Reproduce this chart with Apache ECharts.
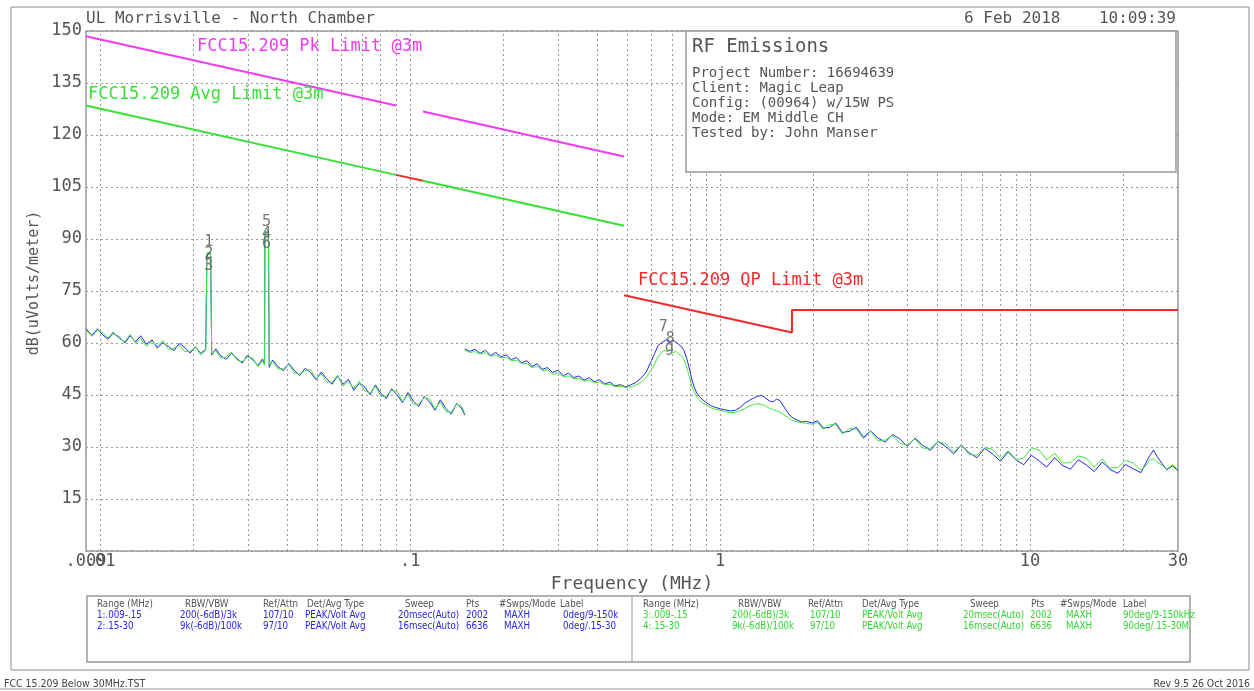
<!DOCTYPE html>
<html>
<head>
<meta charset="utf-8">
<script src="https://cdn.jsdelivr.net/npm/echarts@6/dist/echarts.min.js"></script>
<style>
html,body{margin:0;padding:0;background:#fff;}
#chart{width:1254px;height:691px;}
</style>
</head>
<body>
<div id="chart"></div>
<script>
// ---------- data ----------
var xTickValues = [0.009, 0.1, 1, 10, 30];
var xTickText = ['.009', '.1', '1', '10', '30'];
var xTickValues2 = [0.01];        // label drawn on an overlaid axis (overlaps '.009' as in the original)
var xTickText2 = ['.01'];
var yTickStep = 15;
var gridFreqs = [0.01,0.02,0.03,0.04,0.05,0.06,0.07,0.08,0.09,
                 0.1,0.2,0.3,0.4,0.5,0.6,0.7,0.8,0.9,
                 1,2,3,4,5,6,7,8,9,10,20];

// limit lines [MHz, dBuV/m]
var pkLimitA = [[0.009,148.5],[0.09,128.5]];
var pkLimitB = [[0.11,126.8],[0.49,113.8]];
var avgLimitA = [[0.009,128.5],[0.09,108.5]];
var avgLimitB = [[0.11,106.8],[0.49,93.8]];
var qpLimitLow = [[0.09,108.5],[0.11,106.8]];
var qpLimit = [[0.49,73.8],[1.705,63.0],[1.705,69.5],[30,69.5]];

// range 1 (.009-.15 MHz)
var blue1 = [[0.0090,64.1],[0.0094,62.2],[0.0098,64.1],[0.0102,62.3],[0.0106,61.1],[0.0110,62.8],[0.0115,61.8],[0.0120,60.0],[0.0125,62.1],[0.0130,60.3],[0.0135,62.1],[0.0141,59.6],[0.0147,60.9],[0.0153,58.5],[0.0159,60.1],[0.0166,59.0],[0.0173,57.8],[0.0180,59.9],[0.0187,58.8],[0.0195,57.1],[0.0203,58.9],[0.0211,57.0],[0.0219,58.2],[0.0221,85.6],[0.0227,85.9],[0.0229,56.5],[0.0236,58.3],[0.0245,56.3],[0.0255,55.3],[0.0265,57.0],[0.0276,55.6],[0.0287,54.2],[0.0298,56.4],[0.0310,55.2],[0.0323,53.5],[0.0334,55.4],[0.0339,53.9],[0.0340,91.6],[0.0349,92.1],[0.0351,53.0],[0.0360,55.1],[0.0375,53.1],[0.0390,52.0],[0.0406,54.1],[0.0423,52.1],[0.0440,50.6],[0.0458,52.7],[0.0477,51.5],[0.0497,49.4],[0.0517,51.6],[0.0538,49.7],[0.0560,48.1],[0.0583,50.5],[0.0607,48.1],[0.0632,49.5],[0.0658,46.4],[0.0685,48.3],[0.0713,47.4],[0.0742,45.1],[0.0773,47.9],[0.0805,45.5],[0.0838,44.0],[0.0872,46.8],[0.0908,45.0],[0.0945,42.8],[0.0984,45.7],[0.1024,43.2],[0.1066,41.7],[0.1110,44.6],[0.1156,42.9],[0.1203,40.6],[0.1252,43.6],[0.1304,41.1],[0.1357,39.5],[0.1413,42.6],[0.1471,40.9],[0.1500,39.2]];
var green1 = [[0.0090,63.7],[0.0094,61.9],[0.0098,63.7],[0.0102,63.0],[0.0106,61.4],[0.0110,63.2],[0.0115,61.3],[0.0120,60.4],[0.0125,62.5],[0.0130,59.9],[0.0135,61.3],[0.0141,59.0],[0.0147,60.6],[0.0153,59.0],[0.0159,60.7],[0.0166,58.2],[0.0173,58.4],[0.0180,59.4],[0.0187,57.6],[0.0195,57.5],[0.0203,59.0],[0.0211,56.6],[0.0219,57.9],[0.0221,86.0],[0.0227,86.3],[0.0229,56.9],[0.0236,57.8],[0.0245,55.6],[0.0255,56.0],[0.0265,57.4],[0.0276,55.1],[0.0287,54.6],[0.0298,55.9],[0.0310,55.7],[0.0323,53.2],[0.0334,54.9],[0.0339,53.6],[0.0340,92.0],[0.0349,92.4],[0.0351,53.5],[0.0360,54.7],[0.0375,52.5],[0.0390,52.6],[0.0406,53.9],[0.0423,51.4],[0.0440,51.0],[0.0458,52.0],[0.0477,52.4],[0.0497,49.7],[0.0517,51.1],[0.0538,48.8],[0.0560,48.6],[0.0583,50.7],[0.0607,47.6],[0.0632,48.9],[0.0658,46.9],[0.0685,49.0],[0.0713,46.2],[0.0742,45.6],[0.0773,47.5],[0.0805,44.6],[0.0838,44.7],[0.0872,46.3],[0.0908,46.1],[0.0945,43.1],[0.0984,45.1],[0.1024,42.3],[0.1066,42.4],[0.1110,44.3],[0.1156,43.8],[0.1203,40.9],[0.1252,43.0],[0.1304,40.2],[0.1357,40.0],[0.1413,42.4],[0.1471,41.5],[0.1500,39.6]];

// range 2 (.15-30 MHz)
var blue2 = [[0.150,58.3],[0.156,57.6],[0.162,58.2],[0.168,57.0],[0.175,57.9],[0.182,56.4],[0.189,57.3],[0.196,56.0],[0.204,56.6],[0.212,55.2],[0.220,55.8],[0.229,54.3],[0.238,54.9],[0.247,53.2],[0.257,54.0],[0.267,52.4],[0.277,52.9],[0.288,51.5],[0.300,52.1],[0.312,50.6],[0.324,51.3],[0.337,50.0],[0.350,50.5],[0.364,49.3],[0.378,50.0],[0.393,48.8],[0.408,49.4],[0.424,48.2],[0.441,48.7],[0.458,47.6],[0.476,48.0],[0.495,47.3],[0.514,47.9],[0.534,48.6],[0.555,49.8],[0.577,51.6],[0.600,54.8],[0.615,57.0],[0.630,59.2],[0.645,60.0],[0.660,60.6],[0.675,61.0],[0.690,60.4],[0.705,60.8],[0.720,60.2],[0.735,59.6],[0.750,59.0],[0.765,57.8],[0.780,55.6],[0.795,52.8],[0.810,49.6],[0.825,47.2],[0.840,45.6],[0.860,44.4],[0.880,43.6],[0.900,42.9],[0.930,42.0],[0.960,41.5],[1.00,41.0],[1.04,40.7],[1.08,40.4],[1.12,40.6],[1.16,41.4],[1.20,42.6],[1.24,43.4],[1.28,44.1],[1.32,44.6],[1.36,44.9],[1.40,44.2],[1.44,43.3],[1.48,43.0],[1.52,43.8],[1.56,43.4],[1.60,41.8],[1.65,40.0],[1.70,38.6],[1.76,37.9],[1.83,37.2],[1.90,37.4],[1.98,36.9],[2.06,37.6],[2.15,35.5],[2.25,35.6],[2.36,36.9],[2.48,34.2],[2.61,34.5],[2.75,35.7],[2.90,32.8],[3.06,34.6],[3.23,32.6],[3.41,31.4],[3.60,33.6],[3.80,32.3],[4.02,30.2],[4.25,32.6],[4.50,30.5],[4.77,29.0],[5.05,31.6],[5.35,30.1],[5.67,28.0],[6.00,30.6],[6.36,28.3],[6.74,26.9],[7.14,29.6],[7.57,28.0],[8.02,25.9],[8.50,28.6],[9.00,26.3],[9.54,24.9],[10.1,27.6],[10.7,26.0],[11.3,24.2],[12.0,26.9],[12.7,24.7],[13.5,23.6],[14.3,26.3],[15.2,24.8],[16.1,22.9],[17.1,25.7],[18.1,23.5],[19.2,22.4],[20.3,25.0],[21.5,23.7],[22.8,22.6],[23.6,25.3],[24.3,27.5],[25.0,29.1],[25.8,27.0],[26.6,25.3],[27.6,23.4],[28.8,24.6],[30.0,23.2]];
var green2 = [[0.150,57.9],[0.156,57.3],[0.162,57.5],[0.168,56.8],[0.175,57.2],[0.182,56.1],[0.189,56.6],[0.196,55.7],[0.204,55.9],[0.212,54.9],[0.220,55.0],[0.229,54.0],[0.238,54.1],[0.247,52.9],[0.257,53.3],[0.267,52.0],[0.277,52.3],[0.288,51.0],[0.300,51.4],[0.312,50.3],[0.324,50.5],[0.337,49.7],[0.350,49.8],[0.364,49.0],[0.378,49.3],[0.393,48.5],[0.408,48.8],[0.424,48.0],[0.441,48.1],[0.458,47.4],[0.476,47.5],[0.495,47.2],[0.514,47.3],[0.534,47.8],[0.555,48.6],[0.577,50.0],[0.600,52.2],[0.615,54.0],[0.630,56.0],[0.645,57.2],[0.660,57.9],[0.675,57.5],[0.690,58.0],[0.705,57.2],[0.720,57.6],[0.735,56.8],[0.750,56.4],[0.765,55.2],[0.780,53.0],[0.795,50.4],[0.810,47.6],[0.825,45.8],[0.840,44.4],[0.860,43.5],[0.880,42.7],[0.900,42.2],[0.930,41.4],[0.960,40.9],[1.00,40.6],[1.04,40.2],[1.08,39.9],[1.12,40.0],[1.16,40.5],[1.20,41.1],[1.24,41.8],[1.28,42.2],[1.32,42.5],[1.36,42.3],[1.40,41.9],[1.44,41.2],[1.48,40.8],[1.52,40.5],[1.56,40.0],[1.60,39.4],[1.65,38.6],[1.70,37.8],[1.76,37.3],[1.83,37.0],[1.90,36.8],[1.98,36.6],[2.06,37.1],[2.15,35.1],[2.25,36.4],[2.36,36.5],[2.48,33.8],[2.61,35.3],[2.75,35.2],[2.90,32.4],[3.06,34.6],[3.23,31.8],[3.41,32.0],[3.60,33.3],[3.80,31.1],[4.02,30.6],[4.25,32.4],[4.50,29.7],[4.77,29.6],[5.05,31.5],[5.35,31.0],[5.67,28.5],[6.00,30.5],[6.36,27.8],[6.74,27.7],[7.14,29.8],[7.57,29.3],[8.02,26.7],[8.50,28.9],[9.00,26.4],[9.54,26.8],[10.1,29.8],[10.7,29.1],[11.3,26.3],[12.0,28.2],[12.7,25.4],[13.5,25.5],[14.3,27.4],[15.2,26.8],[16.1,24.2],[17.1,26.6],[18.1,23.9],[19.2,24.1],[20.3,26.1],[21.5,25.4],[22.8,23.3],[23.6,24.6],[24.3,26.2],[25.0,26.6],[25.8,25.6],[26.6,24.8],[27.6,23.6],[28.8,24.9],[30.0,23.4]];

// peak markers [MHz, dB, label]
var markers = [[0.0224,89.0,'1'],[0.0224,85.6,'2'],[0.0224,82.3,'3'],
               [0.0344,94.8,'5'],[0.0344,91.5,'4'],[0.0344,88.6,'6'],
               [0.655,64.6,'7'],[0.690,61.0,'8'],[0.685,57.8,'9']];

// texts
var headerLeft = 'UL Morrisville - North Chamber';
var headerRight = '6 Feb 2018    10:09:39';
var yAxisTitle = 'dB(uVolts/meter)';
var infoTitle = 'RF Emissions';
var infoLines = ['Project Number: 16694639','Client: Magic Leap','Config: (00964) w/15W PS','Mode: EM Middle CH','Tested by: John Manser'];
var tableHeader = ['Range (MHz)','RBW/VBW','Ref/Attn','Det/Avg Type','Sweep','Pts','#Swps/Mode','Label'];
var tableLeftRows = [['1:.009-.15','200(-6dB)/3k','107/10','PEAK/Volt Avg','20msec(Auto)','2002','MAXH','0deg/9-150k'],
                     ['2:.15-30','9k(-6dB)/100k','97/10','PEAK/Volt Avg','16msec(Auto)','6636','MAXH','0deg/.15-30']];
var tableRightRows = [['3:.009-.15','200(-6dB)/3k','107/10','PEAK/Volt Avg','20msec(Auto)','2002','MAXH','90deg/9-150kHz'],
                      ['4:.15-30','9k(-6dB)/100k','97/10','PEAK/Volt Avg','16msec(Auto)','6636','MAXH','90deg/.15-30M']];

// ---------- layout/styles ----------
var MONO = "'DejaVu Sans Mono','Liberation Mono',monospace";
var COND = "'DejaVu Sans Condensed','Liberation Sans Narrow','DejaVu Sans',sans-serif";
var GREY = '#555';
var BLUE = '#2626e6';
var GREEN = '#3fe83f';
var MAGENTA = '#f03cf0';
var RED = '#f42a2a';
var LGREEN = '#36e236';

var chart = echarts.init(document.getElementById('chart'), null, {renderer:'canvas'});

function makeFmt(vals, texts){
  return function(v){
    for (var i=0;i<vals.length;i++){
      if (Math.abs(v - vals[i]) / vals[i] < 1e-3) return texts[i];
    }
    return '';
  };
}

var G = [];
function txt(x,y,t,font,fill,align,valign,opt){
  var el = {type:'text', x:x, y:y, z:50, silent:true,
    style:{text:t, font:font, fill:fill, textAlign:align||'left', textVerticalAlign:valign||'middle'}};
  if (opt) for (var k in opt) el[k]=opt[k];
  G.push(el);
}
// outer frame
G.push({type:'rect', shape:{x:11,y:7,width:1238,height:663}, style:{fill:'none', stroke:'#888', lineWidth:1}, z:1, silent:true});
G.push({type:'line', shape:{x1:0,y1:689,x2:1254,y2:689}, style:{stroke:'#999', lineWidth:1}, z:1, silent:true});
// header
txt(86,19,headerLeft,'16px '+MONO,GREY);
txt(1176,19,headerRight,'16px '+MONO,GREY,'right');
// y axis title
txt(34,283,yAxisTitle,'15px '+MONO,GREY,'center','middle',{rotation:Math.PI/2});
// limit labels
txt(197,47,'FCC15.209 Pk Limit @3m','17px '+MONO,MAGENTA);
txt(88,95,'FCC15.209 Avg Limit @3m','17px '+MONO,LGREEN);
txt(638,281,'FCC15.209 QP Limit @3m','17px '+MONO,RED);
// info box
G.push({type:'rect', shape:{x:686,y:31,width:490,height:141}, style:{fill:'#fff', stroke:'#999', lineWidth:1.5}, z:40, silent:true});
txt(692,47,infoTitle,'19px '+MONO,GREY);
for (var i=0;i<infoLines.length;i++) txt(692,73+15*i,infoLines[i],'14px '+MONO,GREY);
// table box
G.push({type:'rect', shape:{x:87,y:596,width:1103,height:66}, style:{fill:'#fff', stroke:'#999', lineWidth:1.5}, z:40, silent:true});
G.push({type:'line', shape:{x1:632,y1:596,x2:632,y2:662}, style:{stroke:'#999', lineWidth:1}, z:41, silent:true});
var hdrL=[97,185,263,307,405,466,499,560], rowL=[97,180,263,305,398,466,504,563];
var hdrR=[643,738,808,862,970,1031,1060,1123], rowR=[643,732,810,862,963,1030,1066,1123];
var TF = '11px '+COND;
var SQ = {scaleX:0.88};
for (var c=0;c<tableHeader.length;c++){
  txt(hdrL[c],604,tableHeader[c],TF,'#555','left','middle',SQ);
  txt(hdrR[c],604,tableHeader[c],TF,'#555','left','middle',SQ);
  for (var r=0;r<2;r++){
    txt(rowL[c],615+11*r,tableLeftRows[r][c],TF,BLUE,'left','middle',SQ);
    txt(rowR[c],615+11*r,tableRightRows[r][c],TF,'#30d830','left','middle',SQ);
  }
}
// footer
txt(4,684,'FCC 15.209 Below 30MHz.TST',TF,'#444','left','middle',{scaleX:0.95});
txt(1250,684,'Rev 9.5 26 Oct 2016',TF,'#444','right','middle',{scaleX:0.95});

function lim(data,color,w){
  return {type:'line', data:data, symbol:'none', silent:true, z:5, animation:false,
          lineStyle:{color:color, width:w||2}};
}
function trace(data,color,z){
  return {type:'line', data:data, symbol:'none', silent:true, z:z, animation:false,
          lineStyle:{color:color, width:1}};
}

var option = {
  animation:false,
  backgroundColor:'#fff',
  grid:{left:86, top:31, width:1092, height:520, show:true, borderColor:'#999', borderWidth:1.5, backgroundColor:'transparent'},
  xAxis:[{type:'log', logBase:10, min:0.009, max:30, position:'bottom',
    axisLine:{show:false}, axisTick:{show:false}, splitLine:{show:false}, minorTick:{show:false},
    axisLabel:{show:true, showMinLabel:true, showMaxLabel:true, hideOverlap:false, margin:2, color:GREY,
      fontFamily:MONO, fontSize:17, formatter:makeFmt(xTickValues, xTickText)},
    name:'Frequency (MHz)', nameLocation:'middle', nameGap:22,
    nameTextStyle:{fontFamily:MONO, fontSize:18, color:GREY}},
   {type:'log', logBase:10, min:0.009, max:30, position:'bottom', offset:0,
    axisLine:{show:false}, axisTick:{show:false}, splitLine:{show:false}, minorTick:{show:false},
    axisLabel:{show:true, showMinLabel:false, showMaxLabel:false, hideOverlap:false, margin:2, color:GREY,
      fontFamily:MONO, fontSize:17, formatter:makeFmt(xTickValues2, xTickText2)}}],
  yAxis:{type:'value', min:0, max:150, interval:yTickStep,
    axisLine:{show:false}, axisTick:{show:false},
    splitLine:{show:true, lineStyle:{color:'#9a9a9a', type:[2,3], width:1}},
    axisLabel:{margin:4, color:GREY, fontFamily:MONO, fontSize:17, showMinLabel:false,
      formatter:function(v){return v===0?'':String(v);}}},
  graphic:G,
  series:[
    {type:'line', data:[], symbol:'none', silent:true, z:1,
      markLine:{symbol:'none', silent:true, animation:false, label:{show:false},
        lineStyle:{color:'#9a9a9a', type:[2,3], width:1},
        data:gridFreqs.map(function(f){return {xAxis:f};})}},
    trace(blue1,BLUE,3), trace(green1,GREEN,4),
    trace(blue2,BLUE,3), trace(green2,GREEN,4),
    lim(pkLimitA,MAGENTA), lim(pkLimitB,MAGENTA),
    lim(avgLimitA,LGREEN), lim(avgLimitB,LGREEN),
    lim(qpLimitLow,RED), lim(qpLimit,RED),
    {type:'scatter', data:markers, symbolSize:1, itemStyle:{color:'rgba(0,0,0,0)'}, silent:true, z:6,
      label:{show:true, position:'inside', color:'#555', fontFamily:MONO, fontSize:15,
        formatter:function(p){return p.data[2];}}}
  ]
};
chart.setOption(option);
</script>
</body>
</html>
